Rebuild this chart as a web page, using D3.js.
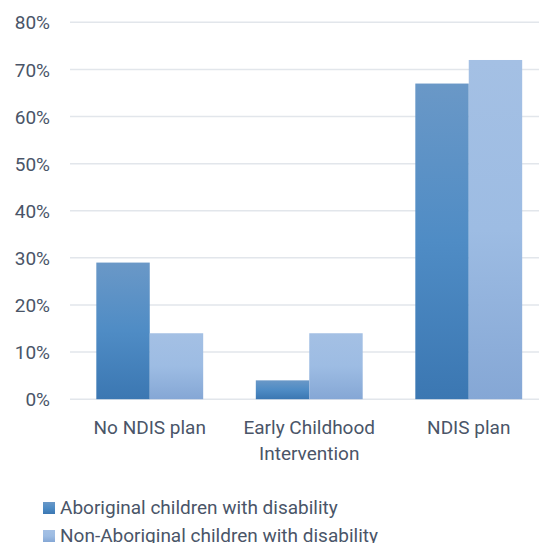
<!DOCTYPE html>
<html><head><meta charset="utf-8">
<script src="https://cdn.jsdelivr.net/npm/d3@7"></script>
<style>html,body{margin:0;padding:0;background:#fff;overflow:hidden}</style>
</head><body>
<script>
const categories = ["No NDIS plan", "Early Childhood\nIntervention", "NDIS plan"];
const seriesNames = ["Aboriginal children with disability", "Non-Aboriginal children with disability"];
const aboriginal = [0.29, 0.04, 0.67];
const nonAboriginal = [0.14, 0.14, 0.72];
const yTicks = [0, 0.1, 0.2, 0.3, 0.4, 0.5, 0.6, 0.7, 0.8];

const W = 539, H = 543;
const font = "Roboto, 'Liberation Sans', sans-serif";
const textColor = "#4a5568";
const svg = d3.select("body").append("svg").attr("width", W).attr("height", H);

const defs = svg.append("defs");
const g1 = defs.append("linearGradient").attr("id", "gDark").attr("x1", 0).attr("y1", 0).attr("x2", 0).attr("y2", 1);
g1.append("stop").attr("offset", "0%").attr("stop-color", "#6a98c7");
g1.append("stop").attr("offset", "50%").attr("stop-color", "#4f8cc5");
g1.append("stop").attr("offset", "100%").attr("stop-color", "#3b77b2");
const g2 = defs.append("linearGradient").attr("id", "gLight").attr("x1", 0).attr("y1", 0).attr("x2", 0).attr("y2", 1);
g2.append("stop").attr("offset", "0%").attr("stop-color", "#a4c0e4");
g2.append("stop").attr("offset", "50%").attr("stop-color", "#9dbce3");
g2.append("stop").attr("offset", "100%").attr("stop-color", "#85a7d5");
const fills = ["url(#gDark)", "url(#gLight)"];

const y = d3.scaleLinear().domain([0, 0.8]).range([399.2, 22.3]);
const x0 = d3.scaleBand().domain(categories).range([70, 548.5]).paddingInner(0.33).paddingOuter(0.165);
const x1 = d3.scaleBand().domain([0, 1]).range([0, x0.bandwidth()]);

// gridlines
svg.append("g").selectAll("line").data(yTicks).join("line")
  .attr("x1", 70).attr("x2", W).attr("y1", d => y(d)).attr("y2", d => y(d))
  .attr("stroke", "#e2e6eb").attr("stroke-width", 1.5);

// y axis labels
const yAxis = d3.axisLeft(y).tickValues(yTicks).tickFormat(d3.format(".0%")).tickSize(0).tickPadding(0);
const ya = svg.append("g").attr("transform", "translate(50,0)").call(yAxis);
ya.select(".domain").remove();
ya.selectAll("text").attr("font-family", font).attr("font-size", 19).attr("fill", textColor).attr("dy", "0.35em");

// bars
const data = categories.map((c, i) => ({c, v: [aboriginal[i], nonAboriginal[i]]}));
const grp = svg.append("g").selectAll("g").data(data).join("g")
  .attr("transform", d => `translate(${x0(d.c)},0)`);
grp.selectAll("rect").data(d => d.v.map((v, k) => ({v, k}))).join("rect")
  .attr("x", d => x1(d.k)).attr("width", x1.bandwidth())
  .attr("y", d => y(d.v)).attr("height", d => y(0) - y(d.v))
  .attr("fill", d => fills[d.k]);

// x labels
const xl = svg.append("g").selectAll("text").data(categories).join("text")
  .attr("x", d => x0(d) + x0.bandwidth() / 2).attr("y", 434)
  .attr("text-anchor", "middle").attr("font-family", font).attr("font-size", 19).attr("fill", textColor);
xl.selectAll("tspan").data(d => d.split("\n")).join("tspan")
  .attr("x", function() { return d3.select(this.parentNode).attr("x"); })
  .attr("dy", (d, i) => i === 0 ? 0 : 26).text(d => d);

// legend
const lg = svg.append("g").selectAll("g").data(seriesNames).join("g")
  .attr("transform", (d, i) => `translate(43,${502 + i * 28})`);
lg.append("rect").attr("width", 12).attr("height", 12).attr("fill", (d, i) => fills[i]);
lg.append("text").attr("x", 17).attr("y", 12).attr("font-family", font).attr("font-size", 19)
  .attr("fill", textColor).text(d => d);
</script>
</body></html>
